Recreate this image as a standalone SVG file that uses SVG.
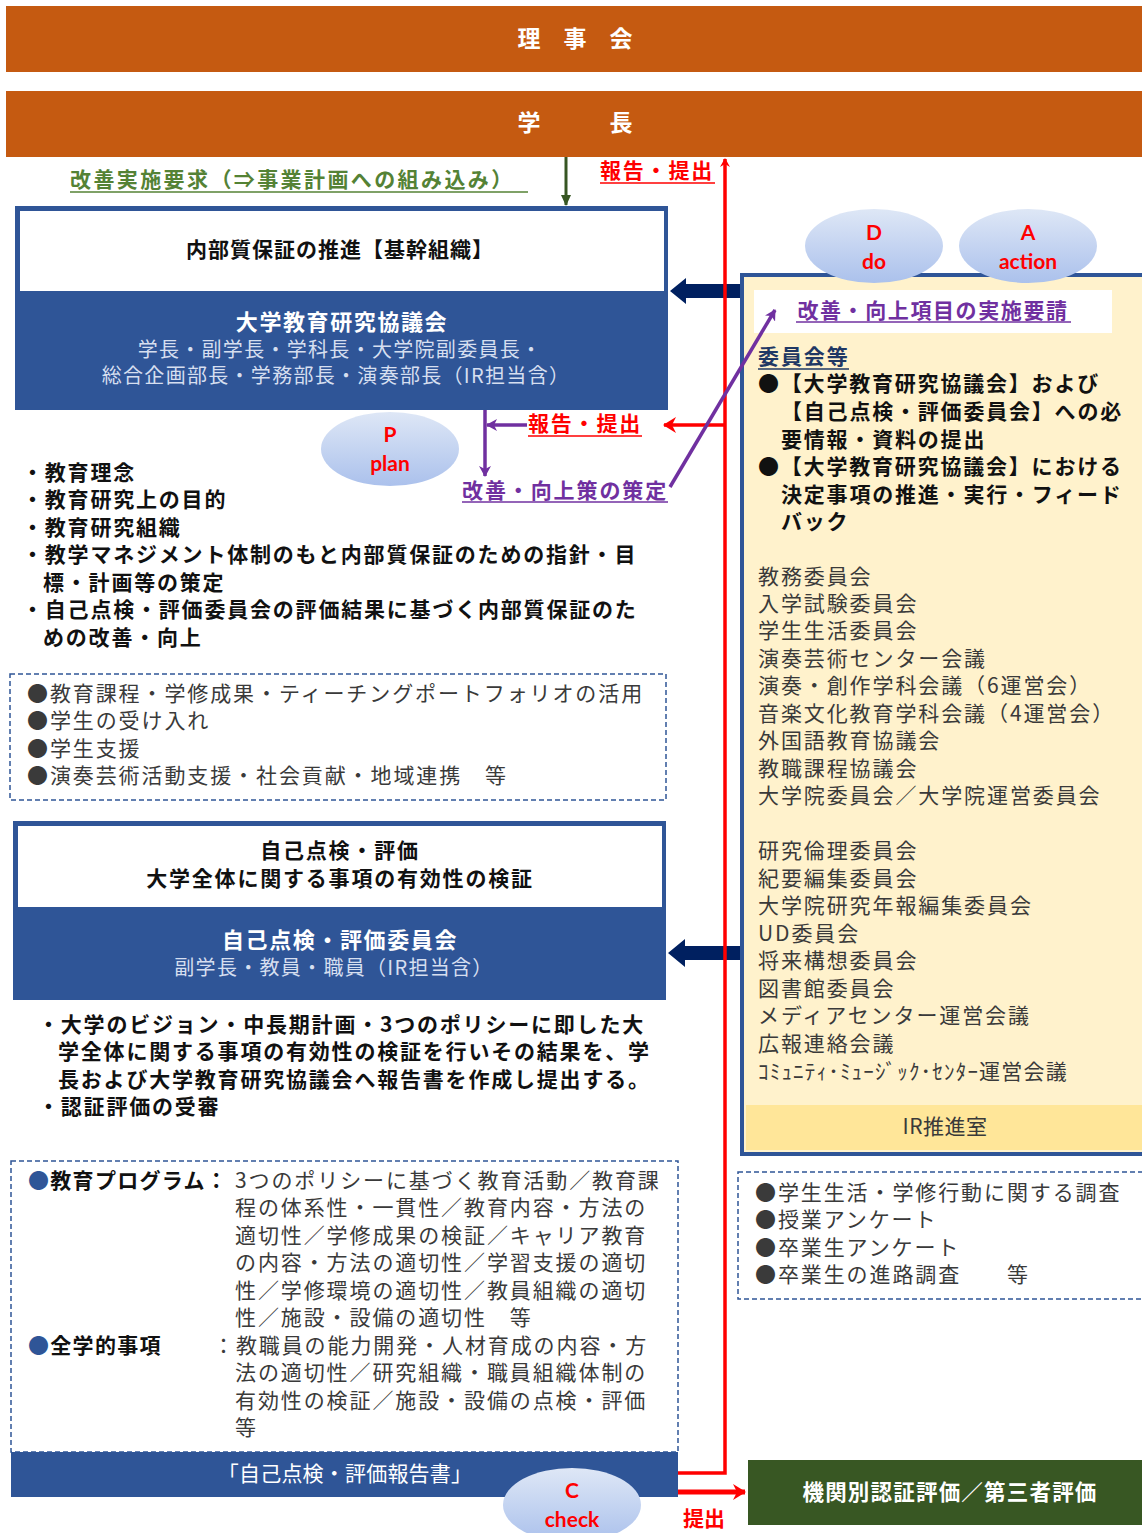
<svg xmlns="http://www.w3.org/2000/svg" width="1142" height="1533" viewBox="0 0 1142 1533">
<defs>
<linearGradient id="eg" x1="0" y1="0" x2="0" y2="1">
<stop offset="0" stop-color="#DEE7F6"/>
<stop offset="1" stop-color="#ABC1EC"/>
</linearGradient>
<marker id="ar" markerWidth="10" markerHeight="10" refX="8" refY="5" orient="auto" markerUnits="userSpaceOnUse">
<path d="M0,0 L9,5 L0,10 L3,5 Z" fill="#FF0000"/>
</marker>
<marker id="arBig" markerWidth="14" markerHeight="16" refX="12" refY="8" orient="auto" markerUnits="userSpaceOnUse">
<path d="M0,0 L13,8 L0,16 L4,8 Z" fill="#FF0000"/>
</marker>
<marker id="ap" markerWidth="12" markerHeight="12" refX="10" refY="6" orient="auto" markerUnits="userSpaceOnUse">
<path d="M0,0 L11,6 L0,12 L3,6 Z" fill="#7030A0"/>
</marker>
<marker id="ag" markerWidth="12" markerHeight="12" refX="10" refY="6" orient="auto" markerUnits="userSpaceOnUse">
<path d="M0,1 L11,6 L0,11 Z" fill="#375623"/>
</marker>
</defs>
<style>
text{font-family:"Noto Sans CJK JP","Noto Sans",sans-serif;dominant-baseline:central;transform:translateY(-2px)}
.t{font-size:21px;letter-spacing:1.9px;fill:#3a3a3a}
.tb{font-size:21px;letter-spacing:1.8px;font-weight:bold;fill:#111}
.hdr{font-size:23px;font-weight:bold;fill:#fff}
.wt{font-size:22px;font-weight:bold;fill:#fff;text-anchor:middle;letter-spacing:1.6px}
.lt{font-size:20px;fill:#D6DFF0;text-anchor:middle;letter-spacing:1.3px}
.ctr{text-anchor:middle}
.bl{fill:#2F5597}
.dash{fill:none;stroke:#2F5597;stroke-width:1.5;stroke-dasharray:5 3}
.ell{fill:url(#eg)}
.el{font-family:Lato,"Liberation Sans",sans-serif;font-size:21px;font-weight:bold;fill:#FF0000;text-anchor:middle}
.red{stroke:#FF0000;fill:none}
.pur{stroke:#7030A0;fill:none;stroke-width:3.5}
</style>

<g id="rijikai">
<rect x="6" y="6" width="1136" height="66" fill="#C55A11"/>
<text x="575" y="39" class="hdr" text-anchor="middle">理　事　会</text>
</g>
<g id="gakucho">
<rect x="6" y="91" width="1136" height="66" fill="#C55A11"/>
<text x="575" y="123" class="hdr" text-anchor="middle">学　　　長</text>
</g>

<g id="box-kyogikai">
<rect x="15" y="206" width="653" height="204" class="bl"/>
<rect x="20" y="211" width="644" height="80" fill="#fff"/>
<text x="340" y="250" class="tb ctr" style="letter-spacing:1px">内部質保証の推進【基幹組織】</text>
<text x="342" y="322" class="wt">大学教育研究協議会</text>
<text x="340" y="350" class="lt">学長・副学長・学科長・大学院副委員長・</text>
<text x="336" y="376" class="lt">総合企画部長・学務部長・演奏部長（IR担当含）</text>
</g>

<g id="plan-ellipse">
<ellipse cx="390" cy="449" rx="69" ry="37" class="ell"/>
<text x="390" y="435" class="el">P</text>
<text x="390" y="464" class="el">plan</text>
</g>

<g id="left-bullets">
<text x="22" y="473" class="tb">・教育理念</text>
<text x="22" y="500" class="tb">・教育研究上の目的</text>
<text x="22" y="528" class="tb">・教育研究組織</text>
<text x="22" y="555" class="tb">・教学マネジメント体制のもと内部質保証のための指針・目</text>
<text x="43" y="583" class="tb">標・計画等の策定</text>
<text x="22" y="610" class="tb">・自己点検・評価委員会の評価結果に基づく内部質保証のた</text>
<text x="43" y="638" class="tb">めの改善・向上</text>
</g>

<g id="dashed-list-1">
<rect x="10" y="674" width="656" height="126" class="dash"/>
<text x="27" y="694" class="t">●教育課程・学修成果・ティーチングポートフォリオの活用</text>
<text x="27" y="721" class="t">●学生の受け入れ</text>
<text x="27" y="749" class="t">●学生支援</text>
<text x="27" y="776" class="t">●演奏芸術活動支援・社会貢献・地域連携　等</text>
</g>

<g id="box-jikotenken">
<rect x="13" y="821" width="653" height="179" class="bl"/>
<rect x="18" y="826" width="644" height="81" fill="#fff"/>
<text x="340" y="851" class="tb ctr">自己点検・評価</text>
<text x="340" y="879" class="tb ctr">大学全体に関する事項の有効性の検証</text>
<text x="340" y="940" class="wt">自己点検・評価委員会</text>
<text x="334" y="968" class="lt">副学長・教員・職員（IR担当含）</text>
</g>

<g id="jikotenken-text">
<text x="38" y="1025" class="tb">・大学のビジョン・中長期計画・3つのポリシーに即した大</text>
<text x="58" y="1052" class="tb">学全体に関する事項の有効性の検証を行いその結果を、学</text>
<text x="58" y="1080" class="tb">長および大学教育研究協議会へ報告書を作成し提出する。</text>
<text x="38" y="1107" class="tb">・認証評価の受審</text>
</g>

<g id="dashed-list-2">
<rect x="11" y="1161" width="667" height="291" class="dash"/>
<text x="28" y="1181" class="tb" style="letter-spacing:1.3px"><tspan fill="#2F5597">●</tspan>教育プログラム：</text>
<text x="235" y="1181" class="t">3つのポリシーに基づく教育活動／教育課</text>
<text x="235" y="1208" class="t">程の体系性・一貫性／教育内容・方法の</text>
<text x="235" y="1236" class="t">適切性／学修成果の検証／キャリア教育</text>
<text x="235" y="1263" class="t">の内容・方法の適切性／学習支援の適切</text>
<text x="235" y="1291" class="t">性／学修環境の適切性／教員組織の適切</text>
<text x="235" y="1318" class="t">性／施設・設備の適切性　等</text>
<text x="28" y="1346" class="tb" style="letter-spacing:1.3px"><tspan fill="#2F5597">●</tspan>全学的事項</text>
<text x="213" y="1346" class="t">：教職員の能力開発・人材育成の内容・方</text>
<text x="235" y="1373" class="t">法の適切性／研究組織・職員組織体制の</text>
<text x="235" y="1401" class="t">有効性の検証／施設・設備の点検・評価</text>
<text x="235" y="1428" class="t">等</text>
</g>

<g id="report-band">
<rect x="11" y="1452" width="667" height="45" class="bl"/>
<text x="345" y="1474" class="ctr" style="font-size:21px;fill:#fff;letter-spacing:0.2px">「自己点検・評価報告書」</text>
</g>

<g id="right-panel">
<rect x="742" y="275" width="420" height="879" fill="#FFF2CC" stroke="#2F5597" stroke-width="4"/>
<rect x="754" y="290" width="358" height="43" fill="#fff"/>
<text x="933" y="311" class="t ctr" style="fill:#7030A0;font-weight:bold;letter-spacing:1.6px">改善・向上項目の実施要請</text>
<line x1="796" y1="322" x2="1071" y2="322" stroke="#7030A0" stroke-width="1.5"/>
<text x="758" y="357" class="t" style="fill:#1F3864;font-weight:bold">委員会等</text>
<line x1="758" y1="369" x2="849" y2="369" stroke="#1F3864" stroke-width="1.5"/>
<text x="758" y="384" class="tb">●【大学教育研究協議会】および</text>
<text x="781" y="412" class="tb">【自己点検・評価委員会】への必</text>
<text x="781" y="440" class="tb">要情報・資料の提出</text>
<text x="758" y="467" class="tb">●【大学教育研究協議会】における</text>
<text x="781" y="495" class="tb">決定事項の推進・実行・フィード</text>
<text x="781" y="522" class="tb">バック</text>
<text x="758" y="577" class="t">教務委員会</text>
<text x="758" y="604" class="t">入学試験委員会</text>
<text x="758" y="631" class="t">学生生活委員会</text>
<text x="758" y="659" class="t">演奏芸術センター会議</text>
<text x="758" y="686" class="t">演奏・創作学科会議（6運営会）</text>
<text x="758" y="714" class="t">音楽文化教育学科会議（4運営会）</text>
<text x="758" y="741" class="t">外国語教育協議会</text>
<text x="758" y="769" class="t">教職課程協議会</text>
<text x="758" y="796" class="t">大学院委員会／大学院運営委員会</text>
<text x="758" y="851" class="t">研究倫理委員会</text>
<text x="758" y="879" class="t">紀要編集委員会</text>
<text x="758" y="906" class="t">大学院研究年報編集委員会</text>
<text x="758" y="934" class="t">UD委員会</text>
<text x="758" y="961" class="t">将来構想委員会</text>
<text x="758" y="989" class="t">図書館委員会</text>
<text x="758" y="1016" class="t">メディアセンター運営会議</text>
<text x="758" y="1044" class="t">広報連絡会議</text>
<text x="758" y="1072" class="t" style="letter-spacing:1.2px">ｺﾐｭﾆﾃｨ･ﾐｭｰｼﾞｯｸ･ｾﾝﾀｰ運営会議</text>
<rect x="746" y="1105" width="400" height="45" fill="#FFE699"/>
<text x="945" y="1127" class="t ctr" style="letter-spacing:0.5px">IR推進室</text>
</g>

<g id="do-ellipse">
<ellipse cx="874" cy="246" rx="69" ry="37" class="ell"/>
<text x="874" y="233" class="el">D</text>
<text x="874" y="262" class="el">do</text>
</g>
<g id="action-ellipse">
<ellipse cx="1028" cy="246" rx="69" ry="37" class="ell"/>
<text x="1028" y="233" class="el">A</text>
<text x="1028" y="262" class="el">action</text>
</g>

<g id="dashed-list-3">
<rect x="738" y="1172" width="410" height="127" class="dash"/>
<text x="755" y="1193" class="t">●学生生活・学修行動に関する調査</text>
<text x="755" y="1220" class="t">●授業アンケート</text>
<text x="755" y="1248" class="t">●卒業生アンケート</text>
<text x="755" y="1275" class="t">●卒業生の進路調査　　等</text>
</g>

<g id="ninsho">
<rect x="748" y="1460" width="394" height="65" fill="#385723"/>
<text x="950" y="1492" class="wt" style="font-size:21.5px;letter-spacing:1.2px">機関別認証評価／第三者評価</text>
</g>

<g id="connectors">
<polygon points="740,284 686,284 686,278 670,291 686,304 686,298 740,298" fill="#002060"/>
<polygon points="740,946 685,946 685,939 668,953 685,967 685,960 740,960" fill="#002060"/>
<line x1="566" y1="157" x2="566" y2="205" stroke="#375623" stroke-width="3" marker-end="url(#ag)"/>
<text x="70" y="180" class="tb" style="fill:#548235;letter-spacing:2.4px">改善実施要求（⇒事業計画への組み込み）</text>
<line x1="70" y1="192" x2="528" y2="192" stroke="#548235" stroke-width="1.5"/>
<polyline points="678,1473 725,1473 725,159" class="red" stroke-width="3.5" marker-end="url(#ar)"/>
<text x="600" y="171" class="tb" style="fill:#FF0000">報告・提出</text>
<line x1="600" y1="183" x2="715" y2="183" stroke="#FF0000" stroke-width="1.5"/>
<line x1="725" y1="425" x2="664" y2="425" class="red" stroke-width="3.5" marker-end="url(#arBig)"/>
<text x="528" y="424" class="tb" style="fill:#FF0000">報告・提出</text>
<line x1="528" y1="436" x2="642" y2="436" stroke="#FF0000" stroke-width="1.5"/>
<line x1="485" y1="410" x2="485" y2="476" class="pur" marker-end="url(#ap)"/>
<line x1="527" y1="425" x2="487" y2="425" class="pur" marker-end="url(#ap)"/>
<text x="462" y="491" class="t" style="fill:#7030A0;font-weight:bold">改善・向上策の策定</text>
<line x1="462" y1="502" x2="668" y2="502" stroke="#7030A0" stroke-width="1.5"/>
<line x1="670" y1="487" x2="775" y2="310" class="pur" marker-end="url(#ap)"/>
<line x1="678" y1="1492" x2="745" y2="1492" class="red" stroke-width="5" marker-end="url(#arBig)"/>
<text x="683" y="1519" class="tb" style="fill:#FF0000;letter-spacing:0">提出</text>
</g>

<g id="check-ellipse">
<ellipse cx="572" cy="1505" rx="69" ry="37" class="ell"/>
<text x="572" y="1491" class="el">C</text>
<text x="572" y="1520" class="el">check</text>
</g>
</svg>
